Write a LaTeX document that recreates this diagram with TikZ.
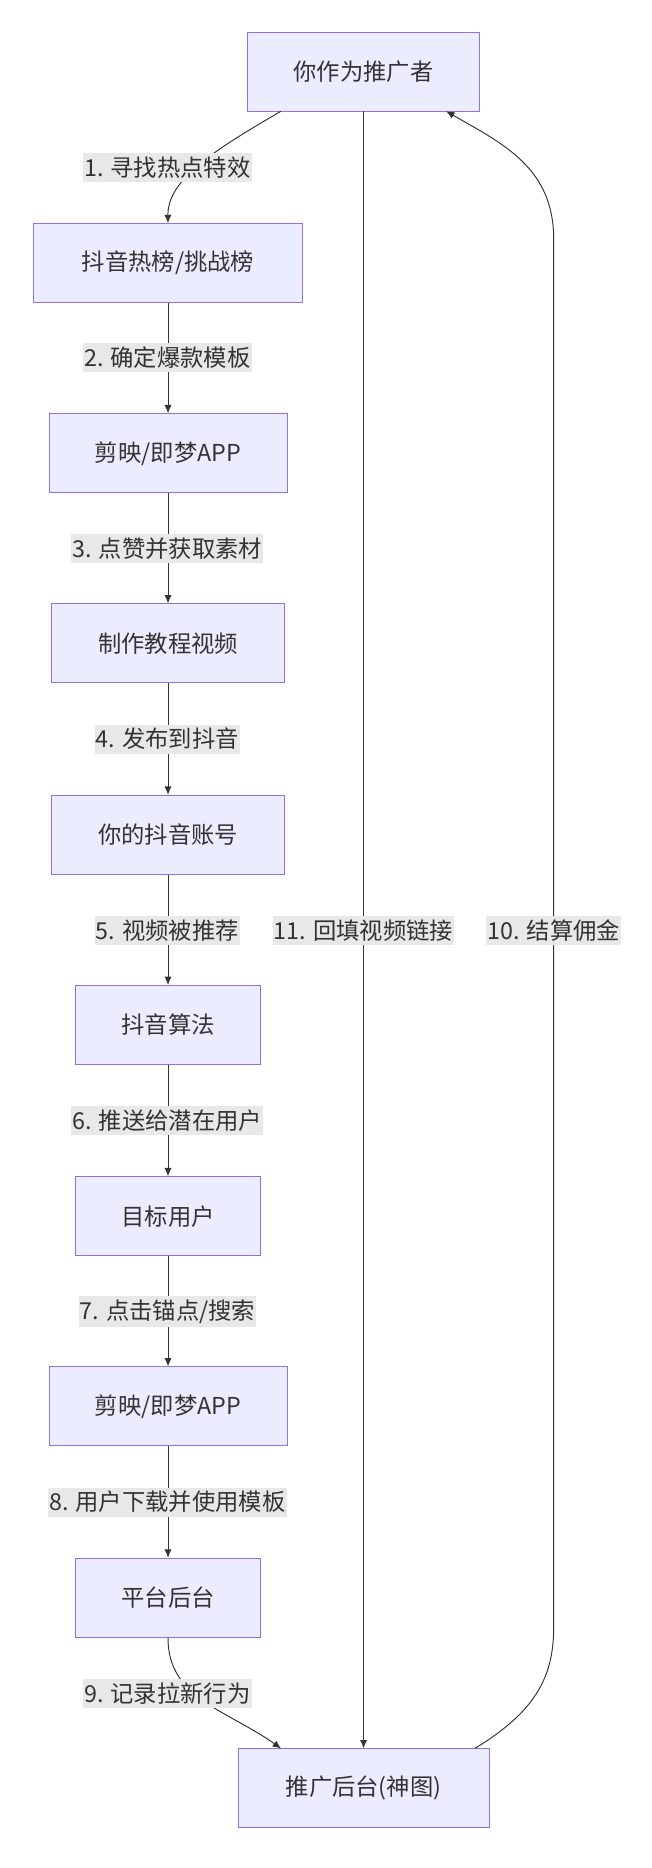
\documentclass[tikz,border=0pt]{standalone}
\usepackage{fontspec}
\setmainfont{Noto Sans CJK SC}
\usetikzlibrary{arrows.meta}
\definecolor{nfill}{HTML}{ECECFF}
\definecolor{nstroke}{HTML}{9370DB}
\definecolor{lbg}{HTML}{E8E8E8}
\definecolor{edge}{HTML}{333333}
\begin{document}
\begin{tikzpicture}[x=1pt,y=-1pt,
  box/.style={draw=nstroke,fill=nfill,line width=0.8pt,font=\fontsize{19.5}{22}\selectfont,text=edge,inner sep=0pt},
  lab/.style={fill=lbg,font=\fontsize{19.5}{22}\selectfont,text=edge,inner xsep=1pt,inner ysep=3pt},
  arr/.style={draw=edge,line width=0.8pt,-{Latex[length=7pt,width=6pt]}}]
\useasboundingbox (0,0) rectangle (545,1562);
\newcommand{\bx}[6]{\node[box,minimum width=#4-#3,minimum height=66] (#1) at ({(#3+#4)/2},#5) {#6};}
\bx{A}{}{207}{401}{60}{你作为推广者}
\bx{B}{}{28}{253}{220}{抖音热榜/挑战榜}
\bx{C}{}{41}{240}{379}{剪映/即梦APP}
\bx{D}{}{43}{238}{538}{制作教程视频}
\bx{E}{}{43}{238}{698}{你的抖音账号}
\bx{F}{}{63}{218}{857}{抖音算法}
\bx{G}{}{63}{218}{1017}{目标用户}
\bx{H}{}{41}{240}{1176}{剪映/即梦APP}
\bx{I}{}{63}{218}{1336}{平台后台}
\bx{J}{}{199}{409}{1495}{推广后台(神图)}
\draw[arr] (235,93) .. controls (180,125) and (140,150) .. (B.north);
\draw[arr] (B) -- (C);
\draw[arr] (C) -- (D);
\draw[arr] (D) -- (E);
\draw[arr] (E) -- (F);
\draw[arr] (F) -- (G);
\draw[arr] (G) -- (H);
\draw[arr] (H) -- (I);
\draw[arr] (I.south) .. controls (140,1420) and (190,1430) .. (235,1462);
\draw[arr] (304,93) -- (304,1462);
\draw[arr] (397,1462) .. controls (450,1430) and (463,1400) .. (463,1360) -- (463,200) .. controls (463,140) and (420,120) .. (373,93);
\node[lab] (l1) at (140,140) {1. 寻找热点特效};
\node[lab] (l2) at (140,299) {2. 确定爆款模板};
\node[lab] (l3) at (140,459) {3. 点赞并获取素材};
\node[lab] (l4) at (140,618) {4. 发布到抖音};
\node[lab] (l5) at (140,778) {5. 视频被推荐};
\node[lab] (l6) at (140,937) {6. 推送给潜在用户};
\node[lab] (l7) at (140,1097) {7. 点击锚点/搜索};
\node[lab] (l8) at (140,1256) {8. 用户下载并使用模板};
\node[lab] (l9) at (140,1416) {9. 记录拉新行为};
\node[lab] (l11) at (304,778) {11. 回填视频链接};
\node[lab] (l10) at (463,778) {10. 结算佣金};
\end{tikzpicture}
\end{document}
